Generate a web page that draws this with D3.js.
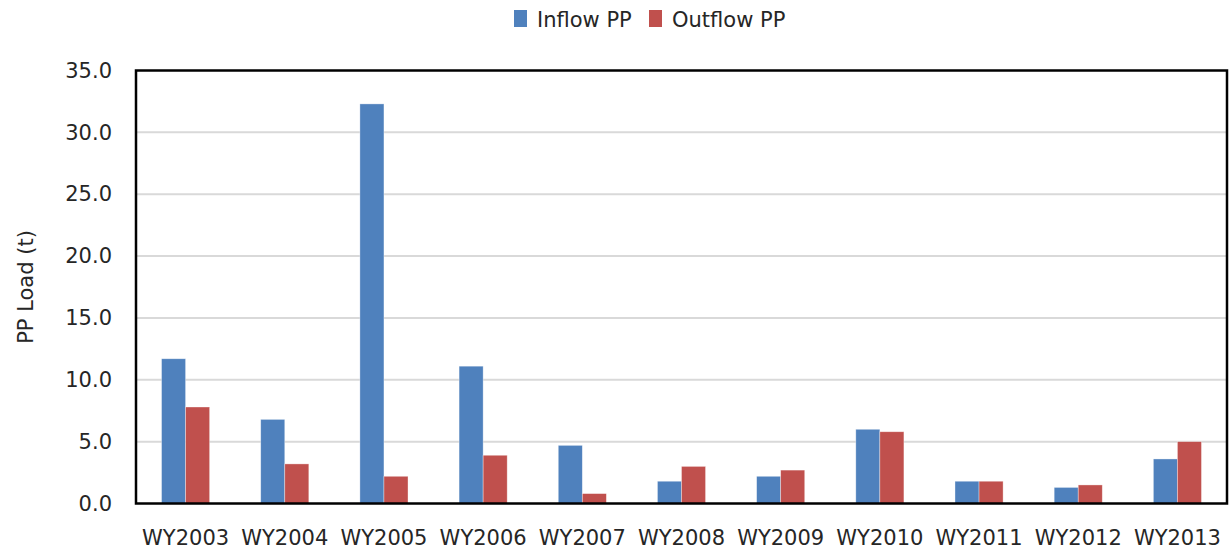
<!DOCTYPE html>
<html>
<head>
<meta charset="utf-8">
<script src="https://cdn.jsdelivr.net/npm/d3@7"></script>
<style>
  body { margin: 0; background: #fff; }
  text { font-family: "DejaVu Sans", sans-serif; fill: #262626; }
</style>
</head>
<body>
<div id="chart"></div>
<script>
const years = ["WY2003", "WY2004", "WY2005", "WY2006", "WY2007", "WY2008", "WY2009", "WY2010", "WY2011", "WY2012", "WY2013"];
const inflowPP = [11.7, 6.8, 32.3, 11.1, 4.7, 1.8, 2.2, 6.0, 1.8, 1.3, 3.6];
const outflowPP = [7.8, 3.2, 2.2, 3.9, 0.8, 3.0, 2.7, 5.8, 1.8, 1.5, 5.0];
const seriesNames = ["Inflow PP", "Outflow PP"];
const colors = ["#4F81BD", "#C0504D"];
const yTicks = [0, 5, 10, 15, 20, 25, 30, 35];

const width = 1231, height = 552;
const margin = { left: 136, right: 4, top: 70.5, bottom: 48.5 };
const plotW = width - margin.left - margin.right;
const plotH = height - margin.top - margin.bottom;

const svg = d3.select("#chart").append("svg")
    .attr("width", width)
    .attr("height", height);

const x = d3.scaleBand().domain(years).range([0, plotW]).paddingInner(0.515).paddingOuter(0.2575);
const y = d3.scaleLinear().domain([0, 35]).range([plotH, 0]);

const g = svg.append("g").attr("transform", `translate(${margin.left},${margin.top})`);

// gridlines
g.selectAll("line.grid")
    .data(yTicks.slice(1, -1))
    .enter()
    .append("line")
    .attr("x1", 0).attr("x2", plotW)
    .attr("y1", d => y(d)).attr("y2", d => y(d))
    .attr("stroke", "#D9D9D9")
    .attr("stroke-width", 2);

// bars
const series = [inflowPP, outflowPP];
const bw = x.bandwidth() / 2;
series.forEach((vals, s) => {
    g.selectAll("rect.s" + s)
        .data(vals)
        .enter()
        .append("rect")
        .attr("x", (d, i) => x(years[i]) + s * bw)
        .attr("y", d => y(d))
        .attr("width", bw)
        .attr("height", d => y(0) - y(d))
        .attr("fill", colors[s])
        .attr("stroke", "#fff")
        .attr("stroke-opacity", 0.5)
        .attr("stroke-width", 0.7);
});

// plot border
g.append("rect")
    .attr("x", 0).attr("y", 0)
    .attr("width", plotW).attr("height", plotH)
    .attr("fill", "none")
    .attr("stroke", "#000")
    .attr("stroke-width", 2.5);

// y axis labels
const yAxis = d3.axisLeft(y).tickValues(yTicks).tickFormat(d3.format(".1f")).tickSize(0).tickPadding(24);
g.append("g").call(yAxis)
    .call(a => a.select(".domain").remove())
    .selectAll("text")
    .attr("font-size", 21)
    .attr("font-family", "DejaVu Sans, sans-serif")
    .attr("fill", "#262626");

// x axis labels
const xAxis = d3.axisBottom(x).tickSize(0).tickPadding(26.5);
g.append("g").attr("transform", `translate(0,${plotH})`).call(xAxis)
    .call(a => a.select(".domain").remove())
    .selectAll("text")
    .attr("font-size", 21)
    .attr("font-family", "DejaVu Sans, sans-serif")
    .attr("fill", "#262626");

// y axis title
svg.append("text")
    .attr("transform", `translate(33,${margin.top + plotH / 2}) rotate(-90)`)
    .attr("text-anchor", "middle")
    .attr("font-size", 21)
    .text("PP Load (t)");

// legend
const legend = svg.append("g").attr("transform", "translate(514,0)");
const legendX = [0, 135];
seriesNames.forEach((name, i) => {
    const lg = legend.append("g").attr("transform", `translate(${legendX[i]},0)`);
    lg.append("rect").attr("x", 0).attr("y", 10).attr("width", 13).attr("height", 17).attr("fill", colors[i]);
    lg.append("text").attr("x", 23).attr("y", 27).attr("font-size", 21).text(name);
});
</script>
</body>
</html>
